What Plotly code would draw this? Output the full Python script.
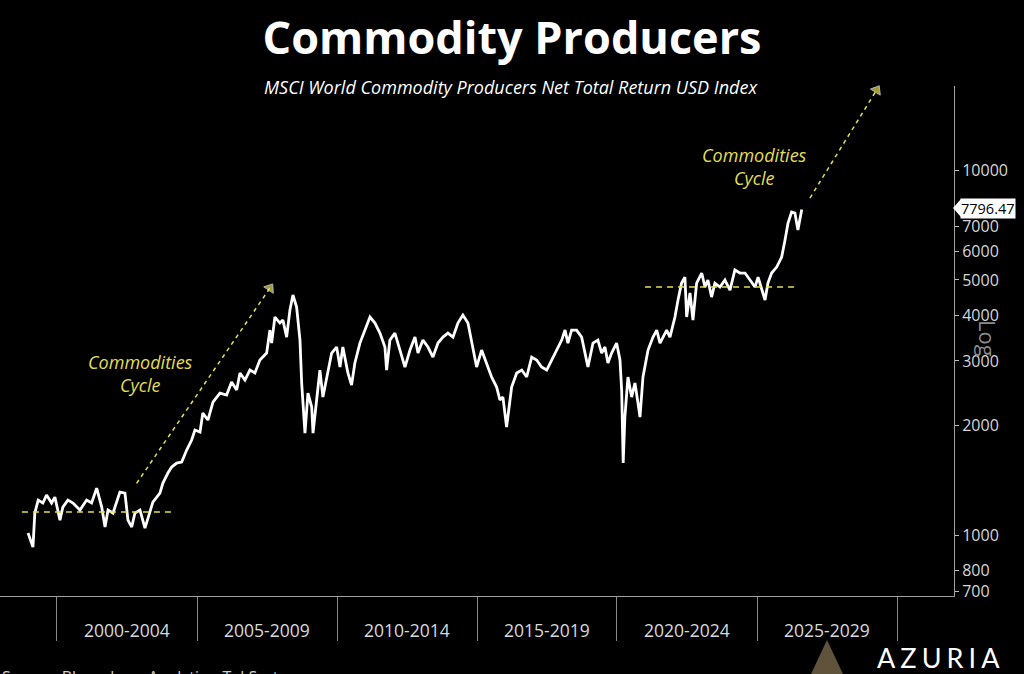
import math
import plotly.graph_objects as go

# ---- Data ----
dates = [
    "1998-12-20", "1999-02-05", "1999-02-22", "1999-03-18", "1999-05-01", "1999-07-01", "1999-08-18", "1999-10-23", "1999-12-05",
    "2000-02-09", "2000-03-18", "2000-05-23", "2000-07-28", "2000-10-27",
    "2001-01-22", "2001-03-28", "2001-06-02", "2001-08-07", "2001-09-19", "2001-10-28",
    "2002-01-01", "2002-04-01", "2002-06-06", "2002-07-15", "2002-09-02", "2002-10-14", "2002-12-19",
    "2003-02-22", "2003-04-27", "2003-06-05", "2003-09-05", "2003-10-14", "2003-12-18",
    "2004-02-05", "2004-04-10", "2004-06-15", "2004-08-19", "2004-10-23", "2004-12-05",
    "2005-02-09", "2005-03-18", "2005-05-23", "2005-07-28", "2005-10-27",
    "2006-01-22", "2006-03-28", "2006-06-02", "2006-07-15", "2006-09-18", "2006-11-22",
    "2007-01-26", "2007-04-01", "2007-06-28", "2007-08-10", "2007-09-01", "2007-10-14", "2007-12-18",
    "2008-01-26", "2008-03-15", "2008-04-27", "2008-06-05", "2008-07-23", "2008-09-05", "2008-09-27", "2008-11-09", "2008-12-18",
    "2009-02-05", "2009-02-22", "2009-04-10", "2009-05-23", "2009-07-01", "2009-08-19", "2009-10-23", "2009-12-27",
    "2010-02-09", "2010-03-18", "2010-05-23", "2010-07-10", "2010-08-22", "2010-10-27",
    "2011-01-01", "2011-03-07", "2011-05-11", "2011-07-15", "2011-09-18", "2011-10-10", "2011-11-22",
    "2012-01-26", "2012-04-01", "2012-06-05", "2012-08-10", "2012-10-14", "2012-11-22",
    "2013-01-26", "2013-04-01", "2013-06-05", "2013-08-10", "2013-10-14", "2013-12-18",
    "2014-02-22", "2014-04-27", "2014-07-01", "2014-09-05", "2014-11-09", "2014-12-27",
    "2015-03-02", "2015-05-06", "2015-07-10", "2015-09-14", "2015-10-27", "2015-12-05",
    "2016-01-22", "2016-03-28", "2016-06-02", "2016-08-07", "2016-10-10", "2016-12-14",
    "2017-02-17", "2017-04-22", "2017-06-28", "2017-09-01", "2017-11-05",
    "2018-01-10", "2018-02-22", "2018-04-01", "2018-05-19", "2018-07-23", "2018-09-27", "2018-11-09", "2018-12-18",
    "2019-02-22", "2019-04-27", "2019-06-15", "2019-07-28", "2019-09-05", "2019-10-23", "2019-12-27",
    "2020-02-09", "2020-03-02", "2020-03-22", "2020-04-13", "2020-05-23", "2020-07-10", "2020-08-22", "2020-10-01", "2020-10-27", "2020-12-05",
    "2021-02-09", "2021-04-15", "2021-06-02", "2021-07-15", "2021-08-22", "2021-10-10", "2021-11-22",
    "2022-01-26", "2022-03-07", "2022-04-22", "2022-06-05", "2022-06-28", "2022-08-10", "2022-09-18", "2022-11-05",
    "2023-01-10", "2023-02-22", "2023-04-01", "2023-05-19", "2023-07-01", "2023-09-05", "2023-11-09",
    "2024-01-14", "2024-03-18", "2024-05-23", "2024-07-28", "2024-10-01", "2024-12-05",
    "2025-01-14", "2025-03-02", "2025-04-15", "2025-05-23", "2025-07-10", "2025-09-14", "2025-11-18",
    "2026-01-01", "2026-02-09", "2026-03-28", "2026-05-10", "2026-06-18", "2026-08-07",
]
values = [
    1013, 951, 927, 1149, 1247, 1224, 1287, 1224, 1271,
    1099, 1193, 1247, 1224, 1171,
    1247, 1224, 1345, 1193, 1052, 1171,
    1149, 1311, 1303, 1099, 1052, 1149, 1171,
    1045, 1149, 1231, 1303, 1388, 1479,
    1536, 1575, 1585, 1710, 1821, 1940,
    1915, 2159, 2066, 2314, 2449,
    2418, 2626, 2496, 2779, 2659, 2832,
    2779, 3016, 3152, 3644, 3357, 3956, 3809,
    3882, 3486, 4134, 4545, 4214, 3421, 2609, 1903, 2449,
    2242, 1903, 2344, 2832, 2388, 2710, 3152, 3274,
    2886, 3274, 2779, 2576, 2960, 3357,
    3644, 3956, 3809, 3575, 3274, 2832, 3421,
    3575, 3212, 2886, 3212, 3486, 3152,
    3421, 3274, 3073, 3357, 3486, 3575,
    3486, 3809, 4006, 3809, 3274, 2886,
    3212, 2960, 2710, 2544, 2344, 2388,
    1977, 2544, 2779, 2832, 2710, 3073,
    3016, 2886, 2832, 3016, 3212,
    3421, 3644, 3357, 3644, 3644, 3486, 3152, 2886,
    3357, 3421, 3152, 3274, 2960, 3152, 3357,
    3016, 2496, 1575, 2105, 2710, 2388, 2609, 2300, 2105, 2710,
    3212, 3486, 3644, 3357, 3486, 3644, 3486,
    3956, 4405, 4900, 5090, 3956, 4603, 3882, 4900,
    5221, 4780, 4995, 4487, 4900, 4780, 4995,
    4690, 5321, 5221, 5221, 4995, 4780,
    5090, 4690, 4405, 4900, 5221, 5423, 5774,
    6430, 7158, 7672, 7622, 6848, 7796.47,
]
last_value = 7796.47

period_labels = ["2000-2004", "2005-2009", "2010-2014", "2015-2019", "2020-2024", "2025-2029"]
period_mids = ["2002-07-02", "2007-07-02", "2012-07-02", "2017-07-02", "2022-07-02", "2027-07-02"]
period_bounds = ["2000-01-01", "2005-01-01", "2010-01-01", "2015-01-01", "2020-01-01", "2025-01-01", "2030-01-01"]

y_tickvals = [700, 800, 1000, 2000, 3000, 4000, 5000, 6000, 7000, 10000]

# support levels (dashed) and cycle arrows
level1_x = ["1998-10-01", "2004-03-18"]
level1_y = [1156, 1156]
level2_x = ["2021-01-01", "2026-06-18"]
level2_y = [4780, 4780]
arrow1_x = ["2002-11-05", "2007-08-10"]
arrow1_y = [1386, 4750]
arrow2_x = ["2026-11-22", "2029-04-10"]
arrow2_y = [8380, 16565]

YELLOW = "#e4de52"
FONT = "Open Sans"

fig = go.Figure()
fig.add_trace(go.Scatter(x=dates, y=values, mode="lines",
                         line=dict(color="white", width=2.8), hoverinfo="skip"))
for lx, ly in [(level1_x, level1_y), (level2_x, level2_y)]:
    fig.add_trace(go.Scatter(x=lx, y=ly, mode="lines",
                             line=dict(color=YELLOW, width=1.5, dash="6px,5px"), hoverinfo="skip"))
for ax_, ay_ in [(arrow1_x, arrow1_y), (arrow2_x, arrow2_y)]:
    fig.add_trace(go.Scatter(x=ax_, y=ay_, mode="lines+markers",
                             line=dict(color=YELLOW, width=1.5, dash="4px,4px"),
                             marker=dict(symbol="triangle-up", size=[0, 10], color=YELLOW,
                                         angleref="previous"),
                             cliponaxis=False, hoverinfo="skip"))

PLOT_TOP, PLOT_BOTTOM, PLOT_RIGHT = 86, 596, 954
H = PLOT_BOTTOM - PLOT_TOP


def py(pix):
    return (PLOT_BOTTOM - pix) / H


def px(pix):
    return pix / PLOT_RIGHT


fig.update_layout(
    width=1024, height=674,
    paper_bgcolor="black", plot_bgcolor="black",
    margin=dict(l=0, r=1024 - PLOT_RIGHT, t=PLOT_TOP, b=674 - PLOT_BOTTOM),
    showlegend=False,
    font=dict(family=FONT, color="#d8d8d8"),
    title=dict(text="<b>Commodity Producers</b>", x=0.5, xref="container", xanchor="center",
               y=1 - 38 / 674, yref="container", yanchor="middle",
               font=dict(family=FONT, size=45, color="white")),
    xaxis=dict(type="date", range=["1997-12-19", "2032-01-14"],
               showgrid=False, zeroline=False, showline=True, linecolor="#a0a0a0", linewidth=1,
               tickmode="array", tickvals=period_bounds, showticklabels=False,
               ticks="outside", ticklen=44, tickcolor="#8a8a8a", tickwidth=1),
    yaxis=dict(type="log", side="right", range=[math.log10(681), 4.2301],
               showgrid=False, zeroline=False, showline=True, linecolor="#a0a0a0", linewidth=1,
               tickmode="array", tickvals=y_tickvals, ticktext=[str(v) for v in y_tickvals],
               ticks="outside", ticklen=4, tickcolor="#bbbbbb",
               tickfont=dict(family=FONT, size=16, color="#d6d6d6")),
)

ann = []
ann.append(dict(text="<i>MSCI World Commodity Producers Net Total Return USD Index</i>",
                xref="paper", yref="paper", x=px(511), y=py(87), showarrow=False,
                font=dict(family=FONT, size=18, color="white"), xanchor="center", yanchor="middle"))
for lab, mid in zip(period_labels, period_mids):
    ann.append(dict(text=lab, xref="x", yref="paper", x=mid, y=py(630), showarrow=False,
                    font=dict(family=FONT, size=17.5, color="#d9d9d9"), xanchor="center", yanchor="middle"))
ann.append(dict(text="<i>Commodities<br>Cycle</i>", xref="paper", yref="paper", x=px(140), y=py(373),
                xanchor="center", yanchor="middle",
                showarrow=False, font=dict(family=FONT, size=18, color=YELLOW), align="center"))
ann.append(dict(text="<i>Commodities<br>Cycle</i>", xref="paper", yref="paper", x=px(754), y=py(166),
                xanchor="center", yanchor="middle",
                showarrow=False, font=dict(family=FONT, size=18, color=YELLOW), align="center"))
ann.append(dict(text="Log", xref="paper", yref="paper", x=px(1005), y=py(338), textangle=90,
                showarrow=False, font=dict(family=FONT, size=22, color="#8a8a8a")))
ann.append(dict(text=f"{last_value:.2f}", xref="paper", yref="paper", x=px(960), y=py(208),
                xanchor="left", yanchor="middle", showarrow=False, bgcolor="white",
                borderpad=0, font=dict(family=FONT, size=14.5, color="black")))
ann.append(dict(text="A\u2009\u200aZ\u2009\u200aU\u2009\u200aR\u2009\u200aI\u2009\u200aA", xref="paper", yref="paper",
                x=px(938), y=py(657),
                showarrow=False, font=dict(family="Lato", size=27, color="white"),
                xanchor="center", yanchor="middle"))
ann.append(dict(text="Source: Bloomberg Analytics, Tal Systems", xref="paper", yref="paper",
                x=0.0, y=py(664), xanchor="left", yanchor="top", showarrow=False,
                font=dict(family=FONT, size=16, color="#cfcfcf")))
fig.update_layout(annotations=ann)

# value tag pointer and logo pyramid
fig.add_shape(type="path", xref="paper", yref="paper",
              path=f"M {px(953)} {py(208)} L {px(961)} {py(199)} L {px(961)} {py(217)} Z",
              fillcolor="white", line=dict(width=0))
fig.add_shape(type="path", xref="paper", yref="paper",
              path=f"M {px(827)} {py(640)} L {px(811)} {py(674)} L {px(843)} {py(674)} Z",
              fillcolor="#a08a62", opacity=0.6, line=dict(width=0))

fig.write_html("out.html", config={"displayModeBar": False},
               post_script="document.body.style.margin='0';document.body.style.overflow='hidden';")
